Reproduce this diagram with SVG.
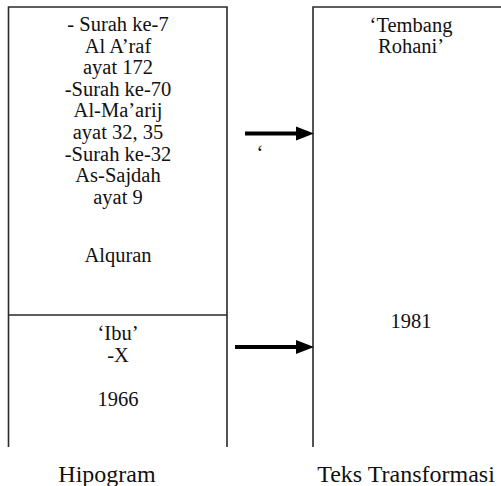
<svg xmlns="http://www.w3.org/2000/svg" width="501" height="486" viewBox="0 0 501 486">
<style>
.box{fill:none;stroke:#2a2a2a;stroke-width:1.6}
.t{font-size:20.5px;fill:#111;text-anchor:middle}
.lbl{font-size:24px;fill:#111;text-anchor:middle}
.arr{stroke:#000;stroke-width:4;fill:none}
</style>
<rect width="501" height="486" fill="#fff"/>
<g font-family="Liberation Serif, Times New Roman, DejaVu Serif, serif">
<g id="hipogram-box">
<path class="box" d="M8.5,447 V7 H227 V447 M8.5,315 H227"/>
<g id="alquran">
<text class="t" x="118" y="31">- Surah ke-7</text>
<text class="t" x="118" y="52.6">Al A’raf</text>
<text class="t" x="118" y="74.2">ayat 172</text>
<text class="t" x="118" y="95.8">-Surah ke-70</text>
<text class="t" x="118" y="117.4">Al-Ma’arij</text>
<text class="t" x="118" y="139">ayat 32, 35</text>
<text class="t" x="118" y="160.6">-Surah ke-32</text>
<text class="t" x="118" y="182.2">As-Sajdah</text>
<text class="t" x="118" y="203.8">ayat 9</text>
<text class="t" x="118" y="262">Alquran</text>
</g>
<g id="ibu">
<text class="t" x="118" y="340">‘Ibu’</text>
<text class="t" x="118" y="362">-X</text>
<text class="t" x="118" y="406">1966</text>
</g>
</g>
<g id="transformasi-box">
<path class="box" d="M501,7 H313 V447"/>
<text class="t" x="411" y="32">‘Tembang</text>
<text class="t" x="411" y="53">Rohani’</text>
<text class="t" x="411" y="328">1981</text>
</g>
<g id="connectors">
<line class="arr" x1="245" y1="133.5" x2="299" y2="133.5"/>
<polygon points="296,126.5 314,133.5 296,140.5" fill="#000"/>
<line class="arr" x1="235" y1="347" x2="299" y2="347"/>
<polygon points="296,340 314,347 296,354" fill="#000"/>
</g>
<text class="t" x="260" y="160">‘</text>
<text class="lbl" x="107" y="482">Hipogram</text>
<text class="lbl" x="406" y="482">Teks Transformasi</text>
</g>
</svg>
